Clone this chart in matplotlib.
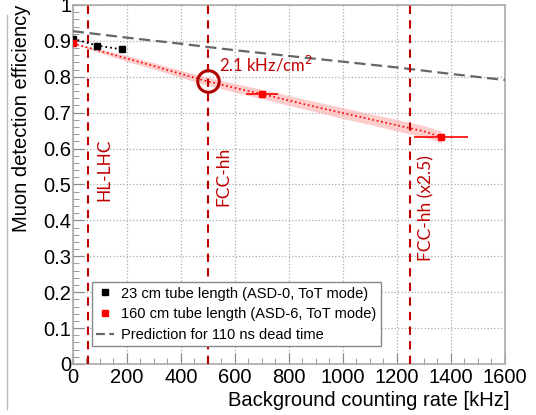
import numpy as np
import matplotlib
matplotlib.use('Agg')
import matplotlib.pyplot as plt
from matplotlib.lines import Line2D
from matplotlib.ticker import MultipleLocator

plt.rcParams['font.family'] = ['Liberation Sans', 'DejaVu Sans']

# ==========================================
# 数据 (读自图片)
# ==========================================
# 23 cm 管 (ASD-0)
rate_23 = [0, 90, 183]
eff_23 = [0.906, 0.887, 0.876]

# 160 cm 管 (ASD-6)
rate_160 = [0, 700, 1365]
eff_160 = [0.893, 0.751, 0.631]
xerr_160 = [0, 60, 100]

# 拟合曲线 + 误差带
fit_rate = [0, 100, 200, 300, 400, 500, 600, 700, 800, 900, 1000, 1100, 1200, 1300, 1365]
fit_eff = [0.893, 0.872, 0.851, 0.830, 0.808, 0.787, 0.769, 0.752, 0.734, 0.716, 0.699, 0.682, 0.665, 0.648, 0.632]
band_half = [0.0, 0.005, 0.008, 0.009, 0.010, 0.011, 0.012, 0.013, 0.014, 0.014, 0.015, 0.015, 0.016, 0.016, 0.016]

# 110 ns 死时间预测
pred_rate = [0, 200, 400, 600, 800, 1000, 1200, 1400, 1600]
pred_eff = [0.927, 0.909, 0.892, 0.874, 0.858, 0.842, 0.826, 0.808, 0.791]

# 参考线
ref_rate = [57, 500, 1250]
ref_label = ['HL-LHC', 'FCC-hh', 'FCC-hh (x2.5)']
ref_label_y = [0.455, 0.44, 0.288]

circle_point = (500, 0.787)
circle_text = '2.1 kHz/cm$^2$'

dark_red = '#c00000'
red_font = ['Lato', 'DejaVu Sans']

fig = plt.figure(figsize=(5.36, 4.15), dpi=100)
ax = fig.add_axes([0.136, 0.123, 0.806, 0.865])

# 预测 (灰色虚线)
ax.plot(pred_rate, pred_eff, color='#666666', linestyle=(0, (5, 2.5)), linewidth=1.6, zorder=3)

# 拟合误差带 + 拟合线
lo = np.array(fit_eff) - np.array(band_half)
hi = np.array(fit_eff) + np.array(band_half)
ax.fill_between(fit_rate, lo, hi, color='#ffaaaa', alpha=0.6, linewidth=0, zorder=2)
ax.plot(fit_rate, fit_eff, color='red', linestyle=':', linewidth=1.2, zorder=3)

# 黑点
ax.plot(rate_23, eff_23, color='black', linestyle=':', linewidth=1.3, zorder=4)
ax.plot(rate_23, eff_23, 's', color='black', markersize=5, zorder=5)

# 红点
ax.errorbar(rate_160, eff_160, xerr=xerr_160, fmt='s', color='red', markersize=5,
            elinewidth=1.2, capsize=0, zorder=5)

# 垂直参考线
for x, lab, ly in zip(ref_rate, ref_label, ref_label_y):
    ax.axvline(x, color=dark_red, linestyle=(0, (4, 3)), linewidth=1.5, zorder=3)
    ax.text(x + 58, ly, lab, rotation=90, color=dark_red, fontsize=12.5,
            family=red_font, va='bottom', ha='center')

# 圆圈 + 标注
ax.plot(*circle_point, 'o', markersize=15.5, markerfacecolor='none',
        markeredgecolor='#b00000', markeredgewidth=2.2, zorder=6)
ax.text(circle_point[0] + 42, circle_point[1] + 0.018, circle_text, color=dark_red,
        fontsize=12, family=red_font, va='bottom', ha='left')

# 坐标轴
ax.set_xlim(0, 1600)
ax.set_ylim(0, 1)
ax.xaxis.set_major_locator(MultipleLocator(200))
ax.xaxis.set_minor_locator(MultipleLocator(50))
ax.yaxis.set_minor_locator(MultipleLocator(0.02))
ax.set_yticks(np.arange(0, 1.01, 0.1))
ax.set_yticklabels(['0', '0.1', '0.2', '0.3', '0.4', '0.5', '0.6', '0.7', '0.8', '0.9', '1'])
ax.tick_params(which='both', direction='in', top=False, right=False, colors='#888888',
               labelcolor='black', labelsize=14.5)
ax.tick_params(which='major', length=8)
ax.tick_params(which='minor', length=4)
ax.tick_params(axis='x', pad=3)
ax.tick_params(axis='y', pad=1)
ax.grid(True, which='major', linestyle=':', color='#aaaaaa', linewidth=0.9)
for s in ax.spines.values():
    s.set_color('#aaaaaa')
    s.set_linewidth(1.2)

ax.set_xlabel('Background counting rate [kHz]', fontsize=14.5)
ax.xaxis.set_label_coords(1.01, -0.075)
ax.xaxis.label.set_horizontalalignment('right')
ax.set_ylabel('Muon detection efficiency', fontsize=14.5)
ax.yaxis.set_label_coords(-0.118, 1.0)
ax.yaxis.label.set_verticalalignment('center')
ax.yaxis.label.set_horizontalalignment('right')

# 图例
handles = [
    Line2D([], [], marker='s', color='black', linestyle='none', markersize=4),
    Line2D([], [], marker='s', color='red', linestyle='none', markersize=4),
    Line2D([], [], color='#666666', linestyle=(0, (4, 2)), linewidth=1.6),
]
labels = ['23 cm tube length (ASD-0, ToT mode)',
          '160 cm tube length (ASD-6, ToT mode)',
          'Prediction for 110 ns dead time']
leg = ax.legend(handles, labels, loc='lower left', bbox_to_anchor=(0.044, 0.05),
                fontsize=10.5, frameon=True, fancybox=False, edgecolor='#888888',
                framealpha=1, handlelength=1.2, handletextpad=0.5, borderpad=0.3,
                labelspacing=0.45, borderaxespad=0)
leg.get_frame().set_linewidth(1.0)

# 左侧灰色边线
fig.add_artist(Line2D([0.013, 0.013], [0.014, 0.964], color='#bbbbbb', linewidth=1.0))

fig.savefig('out.png', dpi=100)
